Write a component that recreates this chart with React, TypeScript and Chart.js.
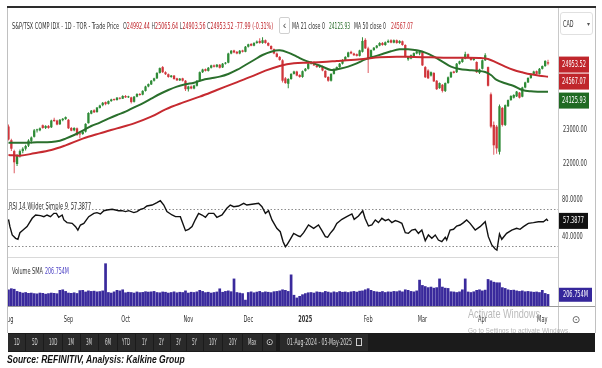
import React, { useEffect, useRef } from 'react';
import { Chart, registerables } from 'chart.js';

Chart.register(...registerables);

// ---------------- data ----------------
const monthTickIdx = [0, 21, 41, 63, 84, 104, 126, 145, 166, 187];
const monthTickLabels = ['Aug', 'Sep', 'Oct', 'Nov', 'Dec', '2025', 'Feb', 'Mar', 'Apr', 'May'];

const opens = [
  23100, 22700, 22380, 22000, 22250, 22380, 22450, 22540, 22680, 22800,
  22990, 22990, 23140, 23060, 23120, 23080, 23300, 23280, 23170, 23290,
  23320, 23300, 23060, 22990, 23050, 22900, 22880, 22950, 23200, 23480,
  23580, 23530, 23650, 23730, 23820, 23770, 23850, 23900, 23880, 23940,
  23920, 24000, 23960, 23960, 23830, 23980, 24060, 24040, 24150, 24280,
  24340, 24450, 24520, 24680, 24850, 24700, 24640, 24560, 24600, 24520,
  24460, 24520, 24450, 24200, 24280, 24220, 24300, 24450, 24700, 24790,
  24740, 24830, 24900, 24860, 24920, 24840, 24950, 24980, 25250, 25340,
  25300, 25250, 25340, 25300, 25450, 25530, 25480, 25560, 25620, 25560,
  25640, 25560, 25470, 25380, 25250, 25150, 25050, 24520, 24360, 24500,
  24650, 24720, 24620, 24560, 24740, 24800, 24950, 25000, 24900, 24850,
  24880, 24740, 24560, 24450, 24650, 24780, 24850, 24950, 25060, 25150,
  25300, 25250, 25230, 25180, 25300, 25650, 25400, 25150, 25350, 25420,
  25480, 25560, 25500, 25580, 25640, 25570, 25640, 25560, 25610, 25500,
  25080, 25100, 25150, 25250, 25250, 25300, 24850, 24750, 24600, 24680,
  24450, 24230, 24330, 24150, 24380, 24550, 24720, 24700, 24950, 25000,
  25100, 25230, 25120, 25060, 25000, 24680, 24800, 25050, 24850, 24050,
  23150, 23100, 22360, 23650, 23150, 23700, 23880, 23950, 23990, 24100,
  23980, 24250, 24400, 24530, 24650, 24730, 24650, 24800, 24880, 24992.44,
];
const highs = [
  23160, 22740, 22420, 22290, 22430, 22490, 22570, 22730, 22810, 23030,
  23040, 23070, 23160, 23140, 23150, 23300, 23360, 23300, 23320, 23350,
  23400, 23320, 23090, 23080, 23070, 22930, 22970, 23200, 23520, 23590,
  23610, 23680, 23740, 23820, 23840, 23870, 23920, 23930, 23970, 23960,
  24020, 24030, 24010, 23980, 24000, 24080, 24090, 24170, 24300, 24370,
  24470, 24540, 24700, 24840, 24880, 24730, 24660, 24620, 24620, 24540,
  24530, 24540, 24470, 24300, 24310, 24330, 24470, 24720, 24800, 24810,
  24850, 24920, 24930, 24940, 24940, 24970, 25000, 25270, 25350, 25360,
  25320, 25350, 25360, 25470, 25540, 25560, 25580, 25630, 25700, 25730,
  25660, 25580, 25490, 25400, 25280, 25180, 25080, 24560, 24520, 24670,
  24740, 24740, 24640, 24750, 24820, 24970, 25030, 25020, 24920, 24900,
  24900, 24760, 24580, 24670, 24810, 24870, 24970, 25080, 25170, 25300,
  25330, 25270, 25250, 25360, 25730, 25700, 25450, 25370, 25440, 25500,
  25580, 25590, 25600, 25660, 25670, 25660, 25660, 25640, 25630, 25520,
  25170, 25220, 25280, 25330, 25320, 25330, 24880, 24790, 24720, 24700,
  24470, 24400, 24350, 24400, 24570, 24720, 24740, 24970, 25040, 25120,
  25300, 25250, 25140, 25120, 25020, 24800, 25070, 25260, 24870, 24100,
  23250, 23150, 23750, 23680, 23750, 23900, 24020, 24050, 24150, 24120,
  24270, 24420, 24550, 24670, 24740, 24750, 24820, 24900, 25050, 25065.64,
];
const lows = [
  22690, 22380, 21730, 21940, 22190, 22320, 22400, 22500, 22600, 22780,
  22930, 22960, 23040, 23030, 23040, 23060, 23240, 23140, 23150, 23260,
  23300, 23030, 22960, 22960, 22830, 22760, 22860, 22930, 23190, 23460,
  23500, 23510, 23630, 23700, 23730, 23750, 23830, 23860, 23870, 23900,
  23910, 23940, 23940, 23780, 23810, 23960, 24010, 24020, 24130, 24260,
  24320, 24430, 24500, 24660, 24680, 24620, 24540, 24540, 24480, 24440,
  24440, 24430, 24150, 24130, 24200, 24200, 24280, 24430, 24680, 24720,
  24720, 24810, 24840, 24840, 24810, 24820, 24930, 24960, 25230, 25260,
  25230, 25230, 25280, 25290, 25430, 25460, 25460, 25540, 25540, 25540,
  25540, 25460, 25360, 25230, 25130, 25040, 24400, 24360, 24230, 24480,
  24630, 24580, 24540, 24540, 24720, 24780, 24930, 24880, 24830, 24820,
  24730, 24530, 24420, 24430, 24630, 24760, 24830, 24930, 25040, 25130,
  25230, 25180, 25160, 25160, 25280, 25380, 24680, 25120, 25330, 25400,
  25460, 25480, 25480, 25560, 25550, 25550, 25540, 25540, 25480, 25130,
  25040, 25080, 25130, 25230, 25200, 24880, 24530, 24500, 24570, 24410,
  24180, 24210, 24100, 24120, 24360, 24530, 24660, 24680, 24930, 24980,
  25080, 25100, 25040, 25040, 24680, 24650, 24780, 25030, 24280, 23050,
  22270, 22300, 22280, 23100, 23120, 23680, 23860, 23930, 23970, 23930,
  23960, 24230, 24380, 24510, 24630, 24630, 24630, 24780, 24860, 24903.56,
];
const closes = [
  22720, 22450, 22050, 22250, 22380, 22450, 22530, 22690, 22780, 22990,
  23010, 23050, 23060, 23120, 23060, 23280, 23260, 23160, 23300, 23330,
  23380, 23050, 22980, 23060, 22850, 22870, 22950, 23180, 23500, 23570,
  23520, 23660, 23720, 23800, 23760, 23850, 23900, 23880, 23950, 23920,
  24000, 23960, 23990, 23820, 23980, 24060, 24030, 24150, 24280, 24350,
  24450, 24520, 24680, 24820, 24700, 24640, 24560, 24600, 24500, 24460,
  24510, 24450, 24200, 24280, 24220, 24310, 24450, 24700, 24780, 24740,
  24830, 24900, 24860, 24920, 24830, 24950, 24980, 25250, 25330, 25280,
  25250, 25330, 25300, 25450, 25520, 25480, 25560, 25600, 25560, 25640,
  25560, 25480, 25380, 25250, 25150, 25060, 24450, 24380, 24500, 24650,
  24720, 24600, 24560, 24730, 24800, 24950, 25000, 24900, 24850, 24880,
  24750, 24550, 24450, 24650, 24790, 24850, 24950, 25060, 25150, 25280,
  25250, 25200, 25180, 25340, 25620, 25400, 25100, 25350, 25420, 25480,
  25560, 25500, 25580, 25620, 25570, 25640, 25560, 25620, 25500, 25150,
  25150, 25200, 25260, 25310, 25300, 24900, 24550, 24520, 24700, 24430,
  24200, 24380, 24150, 24380, 24550, 24700, 24680, 24950, 25020, 25100,
  25230, 25120, 25060, 25100, 24700, 24780, 25050, 25200, 24300, 23100,
  22550, 22460, 23700, 23150, 23730, 23880, 24000, 24030, 24130, 23950,
  24250, 24400, 24530, 24650, 24720, 24650, 24800, 24880, 25031.51, 24953.52,
];
const volumes = [
  300, 320, 310, 270, 255, 240, 250, 235, 240, 230,
  225, 240, 235, 220, 230, 240, 235, 228, 290, 300,
  270, 240, 235, 245, 232, 285, 290, 260, 280, 270,
  275, 262, 268, 280, 780, 250, 240, 262, 290, 280,
  300, 245, 255, 250, 240, 260, 248, 252, 265, 258,
  262, 270, 250, 245, 260, 255, 240, 250, 262, 245,
  255, 250, 280, 240, 255, 250, 262, 290, 270, 248,
  255, 240, 250, 260, 318, 255, 270, 280, 265, 500,
  250, 240, 230, 110, 250, 262, 245, 258, 270, 250,
  262, 255, 248, 265, 270, 280, 300, 290, 270, 575,
  200, 150, 180, 210, 230, 245, 250, 240, 262, 255,
  248, 270, 258, 245, 262, 250, 268, 255, 260, 250,
  262, 270, 258, 275, 280, 300, 320, 290, 270, 262,
  255, 268, 250, 262, 258, 270, 265, 280, 262, 300,
  290, 270, 262, 280, 478, 380, 360, 340, 350, 330,
  340, 500, 350, 330, 325, 264, 260, 250, 262, 300,
  500, 260, 250, 264, 290, 300, 280, 294, 490, 466,
  440, 430, 429, 340, 325, 300, 290, 294, 280, 270,
  280, 264, 270, 262, 255, 260, 250, 290, 233, 215,
];
const ma21Idx = [
  0, 5, 10, 15, 18, 20, 23, 26, 29, 32, 35, 38, 41, 44, 47, 50, 53, 56, 59, 62,
  65, 68, 71, 74, 77, 80, 83, 86, 89, 92, 95, 98, 101, 104, 107, 110, 113, 116, 119, 122,
  125, 128, 131, 134, 137, 140, 143, 146, 149, 152, 155, 158, 161, 164, 167, 169, 171, 174, 177, 180,
  183, 186, 189,
];
const ma21Val = [
  22627, 22627, 22637, 22647, 22686, 22745, 22853, 22980, 23118, 23216,
  23333, 23441, 23539, 23667, 23784, 23922, 24059, 24176, 24275, 24343,
  24392, 24471, 24520, 24569, 24647, 24765, 24912, 25059, 25206, 25304,
  25343, 25275, 25157, 25039, 24961, 24863, 24765, 24804, 24863, 24961,
  25078, 25157, 25235, 25314, 25373, 25373, 25343, 25275, 25157, 25010,
  24863, 24794, 24765, 24745, 24706, 24618, 24471, 24373, 24294, 24176,
  24137, 24127, 24125.93,
];
const ma50Idx = [
  0, 4, 9, 15, 20, 26, 32, 38, 44, 50, 55, 61, 67, 73, 79, 85, 90, 95, 100, 105,
  110, 115, 120, 125, 130, 136, 142, 148, 154, 160, 165, 168, 171, 174, 177, 180, 183, 186, 189,
];
const ma50Val = [
  22265, 22245, 22314, 22412, 22549, 22745, 22902, 23049, 23196, 23392,
  23608, 23804, 23980, 24176, 24373, 24569, 24745, 24882, 24961, 24980,
  25000, 25029, 25059, 25098, 25137, 25157, 25147, 25137, 25127, 25127,
  25118, 25088, 24980, 24863, 24765, 24696, 24637, 24598, 24567.07,
];
const rsiIdx = [
  0, 0.5, 1.3, 2.5, 3.3, 4, 5.1, 6.5, 8.3, 9.5,
  11.2, 12.4, 13.5, 14.7, 15.9, 16.8, 17.6, 18.8, 19.4, 20.5,
  22.3, 23.5, 24.3, 25.2, 26.4, 28.1, 29.9, 31, 32.2, 33.4,
  34.5, 36.3, 37.5, 38.6, 39.8, 41, 42.1, 43.9, 45, 46.2,
  47.4, 48.5, 50.3, 52, 53.2, 54.4, 55.5, 57.3, 58.5, 60.2,
  62, 63.1, 64.3, 65.5, 66.6, 67.8, 69, 70.1, 71.9, 73,
  74.8, 76.5, 77.7, 78.9, 80.6, 82.4, 83.5, 85.9, 87.6, 88.8,
  90, 91.1, 92.3, 94, 95.2, 96.2, 97, 97.5, 98.7, 99.9,
  101.6, 102.2, 103.4, 105.1, 106.9, 108.6, 109.8, 111, 111.8, 112.7,
  113.9, 115, 116.8, 118.5, 120.3, 121.1, 122.6, 124.1, 124.9, 126.1,
  127.3, 128.5, 129.6, 130.8, 132, 133.1, 134.3, 135.5, 136.6, 137.8,
  139, 140.1, 141.3, 142.5, 143.6, 144.8, 146, 147.1, 148.3, 149.5,
  150.6, 151.8, 153, 153.5, 154.7, 155.9, 157, 158.2, 159.4, 160.5,
  161.7, 163.5, 165.2, 167, 168.1, 169.3, 170.5, 171.1, 172, 172.8,
  174.5, 176.3, 178, 179.2, 180.4, 182.1, 183.9, 185.6, 187.4, 188.5,
  189,
];
const rsiVal = [
  59.1, 51.1, 42.0, 38.4, 37.3, 44.5, 47.4, 51.1, 60.2, 63.8,
  63.1, 62.0, 63.8, 62.0, 65.6, 65.6, 61.3, 63.8, 58.4, 55.5,
  54.7, 51.1, 47.4, 52.9, 54.7, 62.0, 65.6, 66.4, 64.9, 68.5,
  69.3, 70.0, 69.3, 68.5, 68.5, 67.5, 68.5, 66.4, 67.5, 70.0,
  71.1, 73.6, 74.7, 77.3, 79.4, 74.7, 67.5, 63.8, 62.0, 62.0,
  46.7, 48.2, 51.1, 59.1, 65.6, 63.8, 61.3, 65.6, 65.6, 61.3,
  63.8, 71.1, 74.7, 72.9, 73.6, 76.5, 74.7, 75.8, 76.5, 72.9,
  65.6, 68.5, 58.4, 49.3, 45.6, 34.7, 29.3, 31.1, 37.3, 43.8,
  40.9, 40.2, 44.5, 52.9, 49.3, 52.9, 46.7, 40.2, 39.5, 43.8,
  48.2, 54.7, 59.1, 62.0, 64.9, 59.1, 62.7, 68.5, 60.2, 51.8,
  52.9, 58.4, 55.5, 60.2, 57.7, 59.1, 55.5, 57.7, 56.5, 54.7,
  44.5, 43.8, 47.4, 48.2, 43.8, 47.4, 35.8, 42.0, 38.4, 42.0,
  36.5, 34.7, 39.5, 36.5, 47.4, 48.2, 51.8, 52.9, 55.5, 58.4,
  54.7, 47.4, 51.1, 56.5, 40.2, 31.1, 26.7, 25.6, 43.1, 37.3,
  43.8, 47.4, 49.3, 48.2, 51.1, 54.7, 55.5, 56.5, 56.5, 59.1,
  57.3877,
];
const priceTicks = [22000, 23000];
const rsiTicks = [80, 40];
const rsiGuides = [70, 30];
const lastOpen = 24992.44;
const lastHigh = 25065.64;
const lastLow = 24903.56;
const lastClose = 24953.52;
const lastChange = -77.99;
const lastChangePct = -0.31;
const lastMa21 = 24125.93;
const lastMa50 = 24567.07;
const lastRsi = 57.3877;
const volSma = 206.754;
const toolbarButtons = ['1D', '5D', '10D', '1M', '3M', '6M', 'YTD', '1Y', '2Y', '3Y', '5Y', '10Y', '20Y', 'Max', '⊙'];
const dateRange = '01-Aug-2024 - 05-May-2025';

// ---------------- style ----------------
const FN = '"Liberation Sans Narrow", "DejaVu Sans Condensed", "Liberation Sans", Arial, sans-serif';
const FS = '"Liberation Sans", Arial, sans-serif';
const UP = '#2e8b36';
const DN = '#d0353b';
const MA21C = '#2a6f2c';
const MA50C = '#c62a30';
const BOX_RED = '#c0262c';
const BOX_GREEN = '#1f6a22';
const VOLC = '#3a2a9c';
const X_MIN = -0.175;
const X_MAX = 192.5;
const P_MIN = 21265;
const P_MAX = 26588;
const R_MIN = 18.0;
const R_MAX = 92.16;
const V_MAX = 901.6;

const mctx: any = typeof document !== 'undefined' ? document.createElement('canvas').getContext('2d') : null;
function measure(text: string, font: string) {
  if (!mctx) return text.length * 5;
  mctx.font = font;
  return mctx.measureText(text).width;
}

function squash(ctx: any, text: string, x: number, cy: number, sx: number, font: string, color: string, align: any = 'left') {
  ctx.save();
  ctx.font = font;
  ctx.fillStyle = color;
  ctx.textBaseline = 'middle';
  ctx.textAlign = align;
  ctx.translate(x, cy);
  ctx.scale(sx, 1);
  ctx.fillText(text, 0, 0);
  ctx.restore();
}
function valueBox(ctx: any, text: string, x0: number, w: number, cy: number, h: number, bg: string, sx: number, font: string) {
  ctx.save();
  ctx.fillStyle = bg;
  ctx.fillRect(x0, cy - h / 2, w, h);
  ctx.restore();
  squash(ctx, text, x0 + w / 2, cy, sx, font, '#fff', 'center');
}

type Seg = { t: string; c?: string };
function FitText(props: any) {
  const { x, cy, size, segs, w, sx, family = FN, weight = 'normal', italic = false, color = '#333', align = 'left' } = props;
  const font = `${italic ? 'italic ' : ''}${weight} ${size}px ${family}`;
  const full = (segs as Seg[]).map((s) => s.t).join('');
  const mw = measure(full, font);
  const k = w ? w / mw : sx ?? 1;
  const left = align === 'center' ? x - (mw * k) / 2 : x;
  return (
    <div
      style={{
        position: 'absolute', left, top: cy - size / 2, height: size, lineHeight: `${size}px`,
        fontFamily: family, fontSize: size, fontWeight: weight, fontStyle: italic ? 'italic' : 'normal',
        color, whiteSpace: 'pre', transform: `scaleX(${k})`, transformOrigin: '0 50%',
      }}
    >
      {(segs as Seg[]).map((s, i) => (
        <span key={i} style={{ color: s.c ?? color }}>{s.t}</span>
      ))}
    </div>
  );
}

function Rect(props: any) {
  const { x, y, w, h, bg, style } = props;
  return <div style={{ position: 'absolute', left: x, top: y, width: w, height: h, background: bg, ...(style || {}) }} />;
}

const AXF = `9px ${FN}`;
const AXFB = `bold 9px ${FN}`;

function commonOptions(padBottom: number, ymin: number, ymax: number) {
  return {
    responsive: false,
    animation: false,
    events: [],
    layout: { padding: { left: 0, right: 37, top: 0, bottom: padBottom } },
    plugins: { legend: { display: false }, tooltip: { enabled: false } },
    scales: {
      x: { type: 'linear', min: X_MIN, max: X_MAX, display: false, bounds: 'data', offset: false },
      y: { type: 'linear', min: ymin, max: ymax, display: false, bounds: 'data' },
    },
  };
}

export default function App() {
  const pRef = useRef<HTMLCanvasElement>(null);
  const rRef = useRef<HTMLCanvasElement>(null);
  const vRef = useRef<HTMLCanvasElement>(null);

  useEffect(() => {
    const sxAx = 24 / measure('23000.00', AXF);
    const idx = closes.map((_, i) => i);
    const candleColor = idx.map((i) => (closes[i] >= opens[i] ? UP : DN));
    const wickColor = idx.map((i) => (closes[i] >= opens[i] ? UP : '#dd5a60'));

    const pricePlugin = {
      id: 'priceAxis',
      afterDraw(chart: any) {
        const ctx = chart.ctx;
        const ys = chart.scales.y;
        const ax = chart.chartArea.right;
        priceTicks.forEach((v) => squash(ctx, v.toFixed(2), ax + 5, ys.getPixelForValue(v), sxAx, AXF, '#333'));
        const y1 = ys.getPixelForValue(lastClose) + 1;
        const y2 = Math.max(ys.getPixelForValue(lastMa50), y1 + 17);
        const y3 = Math.max(ys.getPixelForValue(lastMa21), y2 + 19);
        valueBox(ctx, lastClose.toFixed(2), ax + 1, 30, y1, 16, BOX_RED, sxAx, AXF);
        valueBox(ctx, lastMa50.toFixed(2), ax + 1, 30, y2, 16, BOX_RED, sxAx, AXF);
        valueBox(ctx, lastMa21.toFixed(2), ax + 1, 30, y3, 16, BOX_GREEN, sxAx, AXF);
      },
    };
    const rsiPlugin = {
      id: 'rsiAxis',
      beforeDatasetsDraw(chart: any) {
        const ctx = chart.ctx;
        const ys = chart.scales.y;
        const ca = chart.chartArea;
        ctx.save();
        ctx.strokeStyle = '#8c8c8c';
        ctx.lineWidth = 1;
        ctx.setLineDash([1.5, 2]);
        rsiGuides.forEach((v) => {
          const y = Math.round(ys.getPixelForValue(v)) + 0.5;
          ctx.beginPath();
          ctx.moveTo(ca.left, y);
          ctx.lineTo(ca.right, y);
          ctx.stroke();
        });
        ctx.restore();
      },
      afterDraw(chart: any) {
        const ctx = chart.ctx;
        const ys = chart.scales.y;
        const ax = chart.chartArea.right;
        rsiTicks.forEach((v) => squash(ctx, v.toFixed(4), ax + 4, ys.getPixelForValue(v), sxAx, AXF, '#333'));
        valueBox(ctx, lastRsi.toFixed(4), ax + 1, 29, ys.getPixelForValue(lastRsi), 16, '#111', sxAx, AXF);
      },
    };
    const volPlugin = {
      id: 'volAxis',
      afterDraw(chart: any) {
        const ctx = chart.ctx;
        const ys = chart.scales.y;
        const xs = chart.scales.x;
        const ca = chart.chartArea;
        valueBox(ctx, `${volSma.toFixed(3)}M`, ca.right + 1, 33, ys.getPixelForValue(volSma), 14, '#35279b', sxAx, AXF);
        monthTickIdx.forEach((i, k) => {
          const lab = monthTickLabels[k];
          squash(ctx, lab, xs.getPixelForValue(i), ca.bottom + 14, sxAx, lab === '2025' ? AXFB : AXF, '#333', 'center');
        });
      },
    };

    const charts: Chart[] = [];
    charts.push(
      new Chart(pRef.current as HTMLCanvasElement, {
        type: 'bar',
        data: {
          datasets: [
            {
              type: 'line', data: ma50Idx.map((x, k) => ({ x, y: ma50Val[k] })), borderColor: MA50C,
              borderWidth: 2, pointRadius: 0, tension: 0.35, order: 0,
            },
            {
              type: 'line', data: ma21Idx.map((x, k) => ({ x, y: ma21Val[k] })), borderColor: MA21C,
              borderWidth: 2, pointRadius: 0, tension: 0.35, order: 0,
            },
            {
              type: 'bar', data: idx.map((i) => ({ x: i, y: [lows[i], highs[i]] })), backgroundColor: wickColor,
              barThickness: 1, grouped: false, inflateAmount: 0, order: 2,
            },
            {
              type: 'bar', data: idx.map((i) => ({ x: i, y: [opens[i], closes[i]] })), backgroundColor: candleColor,
              barThickness: 2.3, grouped: false, inflateAmount: 0, minBarLength: 1, order: 1,
            },
          ],
        } as any,
        options: commonOptions(0, P_MIN, P_MAX) as any,
        plugins: [pricePlugin],
      }),
    );
    charts.push(
      new Chart(rRef.current as HTMLCanvasElement, {
        type: 'line',
        data: {
          datasets: [
            {
              data: rsiIdx.map((x, k) => ({ x, y: rsiVal[k] })), borderColor: '#111', borderWidth: 1.4,
              pointRadius: 0, tension: 0,
            },
          ],
        } as any,
        options: commonOptions(0, R_MIN, R_MAX) as any,
        plugins: [rsiPlugin],
      }),
    );
    charts.push(
      new Chart(vRef.current as HTMLCanvasElement, {
        type: 'bar',
        data: {
          datasets: [
            {
              data: idx.map((i) => ({ x: i, y: volumes[i] })), backgroundColor: VOLC, barThickness: 2.2,
              grouped: false, inflateAmount: 0.25,
            },
          ],
        } as any,
        options: commonOptions(27, 0, V_MAX) as any,
        plugins: [volPlugin],
      }),
    );
    return () => charts.forEach((c) => c.destroy());
  }, []);

  const tbSx = 8.3 / measure('10D', `8px ${FN}`);
  const cells: [number, number][] = [
    [8, 25], [26, 43], [44, 62], [63, 80], [81, 98], [99, 117], [118, 135], [136, 153], [154, 170],
    [171, 186], [187, 203], [204, 222], [223, 242], [243, 262], [263, 276],
  ];
  const fmt = (v: number) => v.toFixed(2);

  return (
    <div style={{ position: 'absolute', left: 0, top: 0, width: 602, height: 368, background: '#fff', overflow: 'hidden', fontFamily: FS }}>
      <canvas ref={pRef} width={587} height={181} style={{ position: 'absolute', left: 8, top: 8, width: 587, height: 181 }} />
      <canvas ref={rRef} width={587} height={68} style={{ position: 'absolute', left: 8, top: 189, width: 587, height: 68 }} />
      <canvas ref={vRef} width={587} height={76} style={{ position: 'absolute', left: 8, top: 257, width: 587, height: 76 }} />

      {/* frame */}
      <Rect x={7} y={6} w={589} h={2} bg="#2d2d2d" />
      <Rect x={7} y={8} w={1} h={325} bg="#c0c0c0" />
      <Rect x={595} y={8} w={1} h={325} bg="#c0c0c0" />
      <Rect x={558} y={8} w={1} h={325} bg="#c9c9c9" />
      <Rect x={8} y={189} w={550} h={1} bg="#d9d9d9" />
      <Rect x={8} y={257} w={550} h={1} bg="#d9d9d9" />
      <Rect x={8} y={306} w={587} h={1} bg="#9a9a9a" />

      {/* price legend */}
      <FitText x={12} cy={26} w={107} size={9} color="#333" segs={[{ t: 'S&P/TSX COMP IDX - 1D - TOR - Trade Price' }]} />
      <FitText
        x={123} cy={26} w={150} size={9} color="#c0262c"
        segs={[
          { t: 'O', c: '#444' }, { t: fmt(lastOpen) }, { t: ' H', c: '#444' }, { t: fmt(lastHigh) },
          { t: ' L', c: '#444' }, { t: fmt(lastLow) }, { t: ' C', c: '#444' }, { t: fmt(lastClose) },
          { t: ` ${lastChange.toFixed(2)} (${lastChangePct.toFixed(2)}%)` },
        ]}
      />
      <Rect x={279} y={17} w={11} h={17} bg="#fff" style={{ border: '1px solid #d0d0d0', borderRadius: 2, boxSizing: 'border-box' }} />
      <FitText x={284.5} cy={25} sx={1} size={11} align="center" color="#555" family={FS} segs={[{ t: '‹' }]} />
      <FitText x={292} cy={26.5} w={33} size={9} color="#333" segs={[{ t: 'MA 21 close 0' }]} />
      <FitText x={329} cy={26.5} w={21} size={9} color={MA21C} segs={[{ t: fmt(lastMa21) }]} />
      <FitText x={354} cy={26.5} w={32} size={9} color="#333" segs={[{ t: 'MA 50 close 0' }]} />
      <FitText x={391} cy={26.5} w={22} size={9} color={MA50C} segs={[{ t: fmt(lastMa50) }]} />

      {/* CAD selector */}
      <Rect x={560} y={12} w={33} h={23} bg="#fff" style={{ border: '1px solid #e0e0e0', borderRadius: 3, boxSizing: 'border-box' }} />
      <FitText x={563} cy={24} w={10.5} size={9} color="#333" segs={[{ t: 'CAD' }]} />
      <FitText x={588} cy={24} sx={1} size={6} align="center" color="#555" family={FS} segs={[{ t: '▾' }]} />

      {/* RSI legend */}
      <FitText x={9} cy={206.5} w={59} size={9} color="#333" segs={[{ t: 'RSI 14 Wilder Simple 9' }]} />
      <FitText x={70.5} cy={206.5} w={20} size={9} color="#222" segs={[{ t: lastRsi.toFixed(4) }]} />

      {/* Volume legend */}
      <FitText x={12} cy={271} w={31} size={9} color="#333" segs={[{ t: 'Volume SMA' }]} />
      <FitText x={45} cy={271} w={24} size={9} color="#4a3fc4" segs={[{ t: `${volSma.toFixed(3)}M` }]} />

      {/* settings icon in axis column */}
      <FitText x={576} cy={320} sx={1} size={10} align="center" color="#555" family='"DejaVu Sans", sans-serif' segs={[{ t: '⊙' }]} />

      {/* watermark */}
      <FitText x={468} cy={313} w={72} size={13} color="rgba(140,140,140,0.6)" family={FS} segs={[{ t: 'Activate Windows' }]} />
      <FitText x={468} cy={331} w={102} size={8} color="rgba(140,140,140,0.65)" family={FS} segs={[{ t: 'Go to Settings to activate Windows.' }]} />

      {/* toolbar */}
      <Rect x={8} y={333} w={587} h={19} bg="#1b1b1b" />
      {cells.map(([a, b], k) => (
        <Rect key={`c${k}`} x={a} y={334} w={b - a} h={17} bg="#2a2a2a" />
      ))}
      {cells.map(([a, b], k) => (
        <FitText
          key={`t${k}`} x={(a + b) / 2} cy={342.5} sx={toolbarButtons[k] === '⊙' ? 1 : tbSx} size={toolbarButtons[k] === '⊙' ? 9 : 8}
          align="center" color="#d8d8d8" family={toolbarButtons[k] === '⊙' ? '"DejaVu Sans", sans-serif' : FN}
          segs={[{ t: toolbarButtons[k] }]}
        />
      ))}
      <Rect x={280} y={334} w={88} h={17} bg="#2a2a2a" />
      <FitText x={287} cy={342.5} w={65} size={8} color="#d8d8d8" segs={[{ t: dateRange }]} />
      <Rect x={356} y={338} w={6} h={8} bg="transparent" style={{ border: '1px solid #cfcfcf', boxSizing: 'border-box' }} />

      {/* source */}
      <FitText x={7} cy={359.5} w={178} size={10} weight="bold" italic color="#111" family={FS} segs={[{ t: 'Source: REFINITIV, Analysis: Kalkine Group' }]} />
    </div>
  );
}
